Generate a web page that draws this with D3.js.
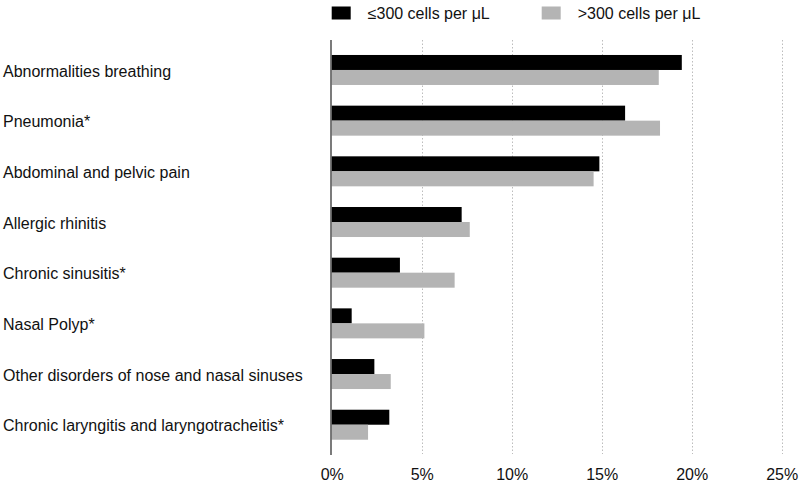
<!DOCTYPE html>
<html>
<head>
<meta charset="utf-8">
<script src="https://cdn.jsdelivr.net/npm/d3@7"></script>
<style>
  html, body { margin: 0; padding: 0; background: #fff; }
  svg { display: block; font-family: "Liberation Sans", Arial, Helvetica, sans-serif; }
</style>
</head>
<body>
<svg id="chart" width="800" height="483"></svg>
<script>
const categories = [
  "Abnormalities breathing",
  "Pneumonia*",
  "Abdominal and pelvic pain",
  "Allergic rhinitis",
  "Chronic sinusitis*",
  "Nasal Polyp*",
  "Other disorders of nose and nasal sinuses",
  "Chronic laryngitis and laryngotracheitis*"
];
const seriesNames = ["≤300 cells per μL", ">300 cells per μL"];
const lowEos  = [19.45, 16.3, 14.87, 7.22, 3.79, 1.11, 2.37, 3.2];
const highEos = [18.17, 18.24, 14.55, 7.67, 6.83, 5.15, 3.28, 2.02];
const tickValues = [0, 5, 10, 15, 20, 25];
const tickLabels = ["0%", "5%", "10%", "15%", "20%", "25%"];
const colors = ["#000000", "#b4b4b4"];

const svg = d3.select("#chart");
const x = d3.scaleLinear().domain([0, 25]).range([331.7, 781.7]);
const y = d3.scaleBand().domain(categories).range([34.3, 460.4])
  .paddingInner(0.408).paddingOuter(0.408);
const sub = d3.scaleBand().domain(seriesNames).range([0, y.bandwidth()]);

// gridlines
svg.append("g").selectAll("line").data(tickValues.slice(1)).join("line")
  .attr("x1", d => Math.round(x(d)) + 0.5).attr("x2", d => Math.round(x(d)) + 0.5)
  .attr("y1", 40).attr("y2", 454)
  .attr("stroke", "#bdbdbd").attr("stroke-width", 1).attr("stroke-dasharray", "1.5,2");

// bars
const data = categories.map((c, i) => ({c, vals: [lowEos[i], highEos[i]]}));
const grp = svg.append("g").selectAll("g").data(data).join("g")
  .attr("transform", d => `translate(0,${y(d.c)})`);
grp.selectAll("rect").data(d => d.vals.map((v, j) => ({v, s: seriesNames[j], j}))).join("rect")
  .attr("x", x(0)).attr("y", d => sub(d.s))
  .attr("width", d => x(d.v) - x(0)).attr("height", sub.bandwidth())
  .attr("fill", d => colors[d.j]);

// axis line
svg.append("line").attr("x1", 331).attr("x2", 331).attr("y1", 40).attr("y2", 455)
  .attr("stroke", "#333").attr("stroke-width", 1.3);

// x axis labels
const xAxis = d3.axisBottom(x).tickValues(tickValues).tickFormat((d, i) => tickLabels[i]).tickSize(0).tickPadding(0);
const gx = svg.append("g").attr("transform", "translate(0,480)").call(xAxis);
gx.select(".domain").remove();
gx.selectAll("text").attr("font-size", 16).attr("fill", "#111").attr("dy", "0").attr("y", 0)
  .attr("font-family", "Liberation Sans, Arial, sans-serif");

// category labels
const yAxis = d3.axisLeft(y).tickSize(0);
const gy = svg.append("g").attr("transform", "translate(3,0)").call(yAxis);
gy.select(".domain").remove();
gy.selectAll("text").attr("text-anchor", "start").attr("x", 0).attr("dy", "0.42em").attr("font-size", 16)
  .attr("fill", "#111").attr("font-family", "Liberation Sans, Arial, sans-serif");

// legend
const legendX = [331.7, 541.7];
const lg = svg.append("g").selectAll("g").data(seriesNames).join("g")
  .attr("transform", (d, i) => `translate(${legendX[i]},6.5)`);
lg.append("rect").attr("width", 19).attr("height", 13).attr("fill", (d, i) => colors[i]);
lg.append("text").attr("x", 36).attr("y", 12).attr("font-size", 16).attr("fill", "#111")
  .text(d => d);
</script>
</body>
</html>
